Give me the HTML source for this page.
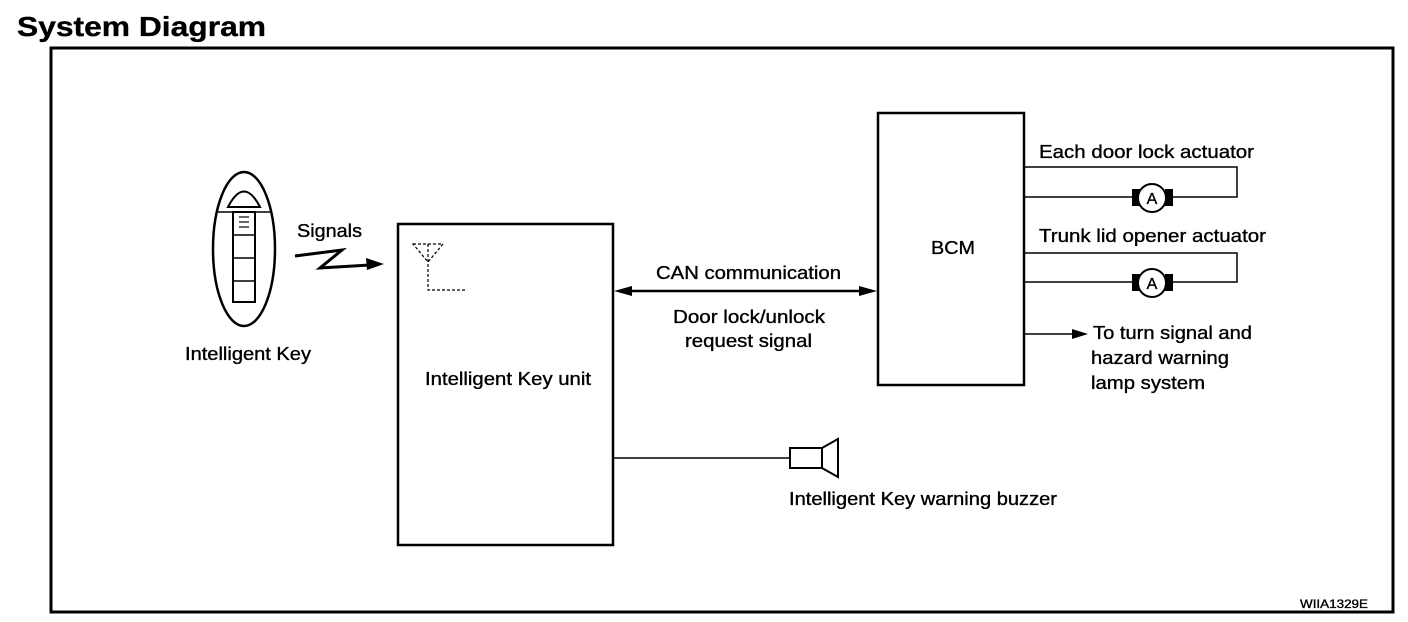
<!DOCTYPE html>
<html><head><style>body{margin:0;background:#fff}svg{display:block}text{font-family:"Liberation Sans",Arial,sans-serif;fill:#000;stroke:#000;stroke-width:0.35}</style></head><body>
<svg width="1408" height="622" viewBox="0 0 1408 622" xmlns="http://www.w3.org/2000/svg">
<text x="17" y="36" font-size="28" font-weight="bold" textLength="249" lengthAdjust="spacingAndGlyphs">System Diagram</text>
<rect x="51" y="48" width="1342" height="564" fill="none" stroke="#000" stroke-width="3"/>
<!-- key fob -->
<ellipse cx="244" cy="249" rx="31" ry="77" fill="none" stroke="#000" stroke-width="2.5"/>
<line x1="218" y1="212" x2="271" y2="212" stroke="#000" stroke-width="1.5"/>
<path d="M228 207 Q244 176 260 207 Z" fill="none" stroke="#000" stroke-width="2"/>
<rect x="233" y="212" width="22" height="90" fill="none" stroke="#000" stroke-width="2"/>
<line x1="233" y1="235" x2="255" y2="235" stroke="#000" stroke-width="1.5"/>
<line x1="233" y1="258" x2="255" y2="258" stroke="#000" stroke-width="1.5"/>
<line x1="233" y1="281" x2="255" y2="281" stroke="#000" stroke-width="1.5"/>
<line x1="239" y1="217" x2="249" y2="217" stroke="#000" stroke-width="1.2"/>
<line x1="239" y1="222" x2="249" y2="222" stroke="#000" stroke-width="1.2"/>
<line x1="239" y1="227" x2="249" y2="227" stroke="#000" stroke-width="1.2"/>
<text x="185" y="360" font-size="18" textLength="126" lengthAdjust="spacingAndGlyphs">Intelligent Key</text>
<text x="297" y="237" font-size="18" textLength="65" lengthAdjust="spacingAndGlyphs">Signals</text>
<path d="M295 256 L342 250 L320 268 L370 265" fill="none" stroke="#000" stroke-width="3"/>
<polygon points="384,264 366,258 367,270" fill="#000"/>
<!-- IK unit -->
<rect x="398" y="224" width="215" height="321" fill="none" stroke="#000" stroke-width="2.5"/>
<path d="M413 244 L443 244 L428 262 Z M428 244 L428 290 L466 290" fill="none" stroke="#000" stroke-width="1.2" stroke-dasharray="3,2"/>
<text x="425" y="385" font-size="18" textLength="166" lengthAdjust="spacingAndGlyphs">Intelligent Key unit</text>
<!-- CAN -->
<line x1="625" y1="291" x2="866" y2="291" stroke="#000" stroke-width="2.5"/>
<polygon points="614,291 632,286 632,296" fill="#000"/>
<polygon points="877,291 859,286 859,296" fill="#000"/>
<text x="656" y="279" font-size="18" textLength="185" lengthAdjust="spacingAndGlyphs">CAN communication</text>
<text x="673" y="323" font-size="18" textLength="152" lengthAdjust="spacingAndGlyphs">Door lock/unlock</text>
<text x="685" y="347" font-size="18" textLength="127" lengthAdjust="spacingAndGlyphs">request signal</text>
<!-- BCM -->
<rect x="878" y="113" width="146" height="272" fill="none" stroke="#000" stroke-width="2.5"/>
<text x="931" y="254" font-size="18" textLength="44" lengthAdjust="spacingAndGlyphs">BCM</text>
<text x="1039" y="158" font-size="18" textLength="215" lengthAdjust="spacingAndGlyphs">Each door lock actuator</text>
<path d="M1025 167 L1237 167 L1237 197 L1168 197 M1025 197 L1138 197" fill="none" stroke="#000" stroke-width="1.5"/>
<rect x="1132" y="189" width="8" height="17" fill="#000"/><rect x="1165" y="189" width="8" height="17" fill="#000"/>
<circle cx="1152" cy="198" r="14" fill="#fff" stroke="#000" stroke-width="2"/>
<text x="1152" y="204" font-size="16" text-anchor="middle">A</text>
<text x="1039" y="242" font-size="18" textLength="227" lengthAdjust="spacingAndGlyphs">Trunk lid opener actuator</text>
<path d="M1025 253 L1237 253 L1237 282 L1168 282 M1025 282 L1138 282" fill="none" stroke="#000" stroke-width="1.5"/>
<rect x="1132" y="274" width="8" height="17" fill="#000"/><rect x="1165" y="274" width="8" height="17" fill="#000"/>
<circle cx="1152" cy="283" r="14" fill="#fff" stroke="#000" stroke-width="2"/>
<text x="1152" y="289" font-size="16" text-anchor="middle">A</text>
<line x1="1025" y1="334" x2="1075" y2="334" stroke="#000" stroke-width="1.5"/>
<polygon points="1088,334 1072,329 1072,339" fill="#000"/>
<text x="1093" y="339" font-size="18" textLength="159" lengthAdjust="spacingAndGlyphs">To turn signal and</text>
<text x="1091" y="364" font-size="18" textLength="138" lengthAdjust="spacingAndGlyphs">hazard warning</text>
<text x="1091" y="389" font-size="18" textLength="114" lengthAdjust="spacingAndGlyphs">lamp system</text>
<!-- buzzer -->
<line x1="613" y1="458" x2="790" y2="458" stroke="#000" stroke-width="1.5"/>
<rect x="790" y="448" width="32" height="20" fill="none" stroke="#000" stroke-width="2"/>
<path d="M822 448 L838 439 L838 477 L822 468" fill="none" stroke="#000" stroke-width="2"/>
<text x="789" y="505" font-size="18" textLength="268" lengthAdjust="spacingAndGlyphs">Intelligent Key warning buzzer</text>
<text x="1300" y="608" font-size="12" textLength="68" lengthAdjust="spacingAndGlyphs">WIIA1329E</text>
</svg>
</body></html>
